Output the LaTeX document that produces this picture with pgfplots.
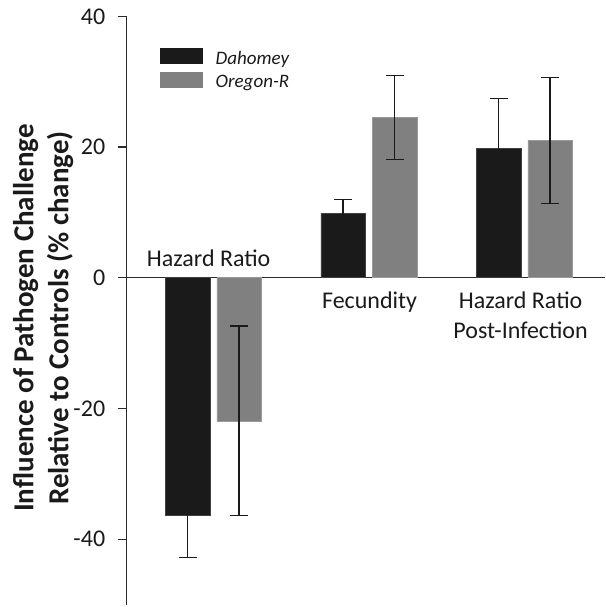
\documentclass[border=0pt]{standalone}
\usepackage{fontspec}
\setmainfont{Carlito}
\usepackage{pgfplots}
\pgfplotsset{compat=1.18}
\definecolor{dah}{HTML}{1A1A1A}
\definecolor{ore}{HTML}{808080}
\definecolor{axc}{HTML}{2B2B2B}
\pgfplotsset{myerr/.style={error bars/y dir=both, error bars/y explicit,
  error bars/error bar style={line width=1.3pt, dah},
  error bars/error mark options={rotate=90, mark size=9pt, line width=1.3pt, dah}}}
\begin{document}
\begin{tikzpicture}
\path[use as bounding box] (-126.7pt,-2.5pt) rectangle (478.3pt,604.5pt);
\begin{axis}[
  at={(0pt,0pt)}, anchor=south west,
  scale only axis, width=478pt, height=588.2pt,
  xmin=-0.557, xmax=2.517, ymin=-50, ymax=40,
  clip=false,
  axis x line*=middle, axis y line*=left,
  axis line style={line width=1.2pt, axc},
  xtick=\empty,
  ytick={-40,-20,0,20,40},
  yticklabels={-40,-20,0,20,40},
  tick align=outside,
  major tick length=9pt,
  ytick style={line width=1.2pt, axc},
  yticklabel style={font=\fontsize{24}{28}\selectfont, text=dah, xshift=-9pt},
  ylabel={Influence of Pathogen Challenge\\Relative to Controls (\% change)},
  ylabel style={font=\bfseries\fontsize{29}{35}\selectfont, text=dah, align=center,
    at={(axis description cs:-0.175,0.487)}, anchor=center},
  ybar=7pt, bar width=44.5pt,
  legend style={at={(rel axis cs:0.0697,0.9457)}, anchor=north west, draw=none, fill=none,
    font=\fontsize{19}{23}\selectfont\itshape, text=dah, inner sep=0pt, row sep=3.5pt},
  legend cell align=left,
]
\addplot[fill=dah, draw=black!75, line width=0.5pt, myerr,
  legend image code/.code={\fill[dah] (0pt,-5pt) rectangle (42pt,10pt); \path (53pt,0pt);}]
  coordinates {(0,-36.3) +- (0,6.5) (1,9.85) +- (0,2.15) (2,19.8) +- (0,7.6)};
\addlegendentry{Dahomey}
\addplot[fill=ore, draw=black!40, line width=0.5pt, myerr,
  legend image code/.code={\fill[ore] (0pt,-5pt) rectangle (42pt,10pt); \path (53pt,0pt);}]
  coordinates {(0,-21.9) +- (0,14.5) (1,24.5) +- (0,6.45) (2,21.0) +- (0,9.65)};
\addlegendentry{Oregon-R}
\node[font=\fontsize{24}{28}\selectfont, text=dah, anchor=base, yshift=11pt] at (axis cs:-0.03,0) {Hazard Ratio};
\node[font=\fontsize{24}{28}\selectfont, text=dah, anchor=base, yshift=-30.6pt] at (axis cs:1.005,0) {Fecundity};
\node[font=\fontsize{24}{28}\selectfont, text=dah, anchor=base, yshift=-30.6pt] at (axis cs:1.976,0) {Hazard Ratio};
\node[font=\fontsize{24}{28}\selectfont, text=dah, anchor=base, yshift=-60.6pt] at (axis cs:1.976,0) {Post-Infection};
\end{axis}
\end{tikzpicture}
\end{document}
